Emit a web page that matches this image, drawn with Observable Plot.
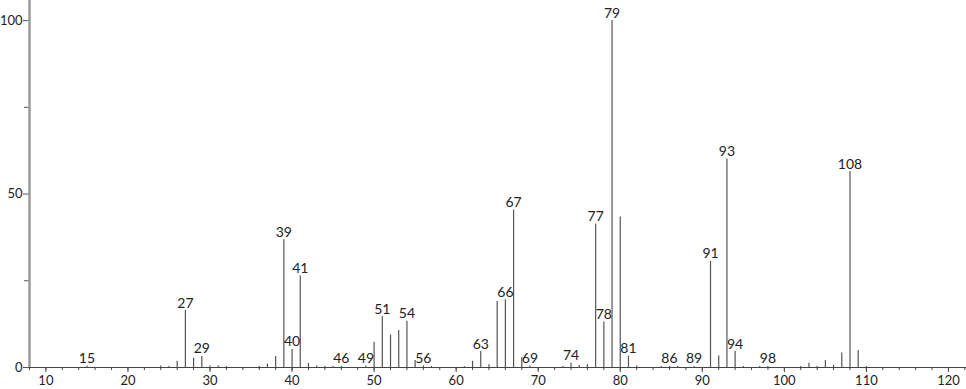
<!DOCTYPE html>
<html>
<head>
<meta charset="utf-8">
<script src="https://cdn.jsdelivr.net/npm/d3@7"></script>
<script src="https://cdn.jsdelivr.net/npm/@observablehq/plot@0.6"></script>
<style>
  html, body { margin: 0; padding: 0; background: #fff; }
  #chart svg { display: block; }
</style>
</head>
<body>
<div id="chart"></div>
<script>
const mz = [15, 24, 25, 26, 27, 28, 29, 30, 31, 32, 36, 37, 38, 39, 40, 41, 42, 43, 44, 45, 46, 49, 50, 51, 52, 53, 54, 55, 56, 57, 61, 62, 63, 64, 65, 66, 67, 68, 69, 73, 74, 75, 76, 77, 78, 79, 80, 81, 82, 85, 86, 87, 89, 91, 92, 93, 94, 95, 97, 98, 102, 103, 104, 105, 106, 107, 108, 109, 110];
const intensity = [0.4, 0.4, 0.3, 1.8, 16.4, 2.7, 3.2, 0.4, 0.4, 0.3, 0.3, 1.0, 3.2, 36.8, 5.2, 26.4, 1.2, 0.4, 0.3, 0.3, 0.3, 0.4, 7.3, 14.7, 9.4, 10.7, 13.3, 2.0, 0.5, 0.3, 0.3, 1.8, 4.6, 0.8, 19.0, 19.5, 45.4, 2.8, 0.4, 0.3, 1.2, 0.6, 0.8, 41.4, 13.1, 100, 43.4, 3.3, 0.4, 0.3, 0.3, 0.3, 0.3, 30.6, 3.3, 60.1, 4.6, 0.3, 0.3, 0.3, 0.3, 1.2, 0.3, 2.0, 0.6, 4.2, 56.5, 4.9, 0.3];
const labeledMz = [15, 27, 29, 39, 40, 41, 46, 49, 51, 54, 56, 63, 66, 67, 69, 74, 77, 78, 79, 81, 86, 89, 91, 93, 94, 98, 108];
const xMajorTicks = [10, 20, 30, 40, 50, 60, 70, 80, 90, 100, 110, 120];
const xMinorTicks = d3.range(8, 123, 2);
const yMajorTicks = [0, 50, 100];
const yMinorTicks = [25, 75];

const peaks = mz.map((m, i) => ({mz: m, ab: intensity[i]}));
const labels = peaks.filter(d => labeledMz.includes(d.mz));

const FONT = "Lato, 'DejaVu Sans', sans-serif";

const chart = Plot.plot({
  width: 966,
  height: 389,
  marginLeft: 29,
  marginRight: 0,
  marginTop: 0,
  marginBottom: 22,
  style: {fontFamily: FONT, fontSize: "13px", color: "#222", background: "#fff"},
  x: {domain: [8, 122.2], label: null},
  y: {domain: [0, 105.8], label: null},
  marks: [
    Plot.axisX(xMinorTicks, {tickSize: 3, tickFormat: () => "", stroke: "#444", label: null}),
    Plot.axisX(xMajorTicks, {tickSize: 5, tickPadding: 3, stroke: "#444", fill: "#222", fontSize: 13, label: null}),
    Plot.axisY(yMinorTicks, {tickSize: 5, tickFormat: () => "", stroke: "#555", label: null}),
    Plot.axisY(yMajorTicks, {tickSize: 6, tickPadding: 1, stroke: "#555", fill: "#222", fontSize: 13, label: null}),
    Plot.ruleX(peaks, {x: "mz", y1: 0, y2: "ab", stroke: "#555", strokeWidth: 1.2}),
    Plot.ruleY([0], {stroke: "#444", strokeWidth: 1.2}),
    Plot.ruleX([8], {stroke: "#9a9a9a", strokeWidth: 2.5}),
    Plot.text(labels, {x: "mz", y: "ab", text: d => String(d.mz), lineAnchor: "bottom", dy: -3, fontSize: 14, fill: "#222"})
  ]
});
document.getElementById("chart").appendChild(chart);
</script>
</body>
</html>
